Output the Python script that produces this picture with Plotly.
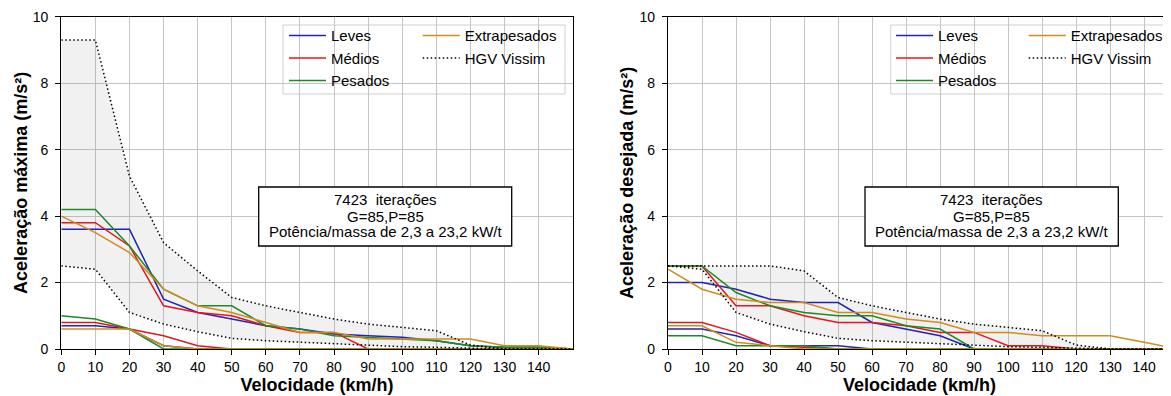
import plotly.graph_objects as go

# ---------------- data ----------------
vel = [0, 10, 20, 30, 40, 50, 60, 70, 80, 90, 100, 110, 120, 130, 140, 150]
x_ticks = [0, 10, 20, 30, 40, 50, 60, 70, 80, 90, 100, 110, 120, 130, 140]
y_ticks = [0, 2, 4, 6, 8, 10]

# Aceleração máxima (left panel)
leves_max_sup = [3.6, 3.6, 3.6, 1.5, 1.1, 0.9, 0.7, 0.6, 0.45, 0.4, 0.35, 0.25, 0.1, 0.05, 0.05, 0]
leves_max_inf = [0.7, 0.7, 0.6, 0.1, 0, 0, 0, 0, 0, 0, 0, 0, 0, 0, 0, 0]
medios_max_sup = [3.8, 3.8, 3.1, 1.3, 1.1, 1.0, 0.7, 0.5, 0.5, 0, 0, 0, 0, 0, 0, 0]
medios_max_inf = [0.8, 0.8, 0.6, 0.4, 0.1, 0, 0, 0, 0, 0, 0, 0, 0, 0, 0, 0]
pesados_max_sup = [4.2, 4.2, 3.1, 1.8, 1.3, 1.3, 0.7, 0.6, 0.4, 0.35, 0.3, 0.25, 0.1, 0.05, 0.05, 0]
pesados_max_inf = [1.0, 0.9, 0.6, 0, 0, 0, 0, 0, 0, 0, 0, 0, 0, 0, 0, 0]
extra_max_sup = [4.0, 3.5, 2.9, 1.8, 1.3, 1.1, 0.8, 0.5, 0.5, 0.3, 0.3, 0.3, 0.3, 0.1, 0.1, 0]
extra_max_inf = [0.6, 0.6, 0.6, 0.1, 0, 0, 0, 0, 0, 0, 0, 0, 0, 0, 0, 0]
hgv_max_sup = [9.3, 9.3, 5.2, 3.2, 2.35, 1.55, 1.3, 1.1, 0.9, 0.75, 0.65, 0.55, 0.12, 0, 0, 0]
hgv_max_inf = [2.5, 2.4, 1.1, 0.75, 0.52, 0.32, 0.25, 0.2, 0.15, 0.1, 0.07, 0.05, 0.02, 0, 0, 0]

# Aceleração desejada (right panel)
leves_des_sup = [2.0, 2.0, 1.8, 1.5, 1.4, 1.4, 0.8, 0.6, 0.4, 0, 0, 0, 0, 0, 0, 0]
leves_des_inf = [0.6, 0.6, 0.4, 0.1, 0.1, 0.1, 0, 0, 0, 0, 0, 0, 0, 0, 0, 0]
medios_des_sup = [2.5, 2.5, 1.3, 1.3, 1.0, 0.8, 0.8, 0.7, 0.5, 0.5, 0.1, 0.1, 0, 0, 0, 0]
medios_des_inf = [0.8, 0.8, 0.5, 0.1, 0.05, 0, 0, 0, 0, 0, 0, 0, 0, 0, 0, 0]
pesados_des_sup = [2.5, 2.5, 1.7, 1.3, 1.1, 1.0, 1.0, 0.7, 0.6, 0, 0, 0, 0, 0, 0, 0]
pesados_des_inf = [0.4, 0.4, 0.1, 0.1, 0.1, 0, 0, 0, 0, 0, 0, 0, 0, 0, 0, 0]
extra_des_sup = [2.4, 1.8, 1.5, 1.4, 1.4, 1.1, 1.1, 0.9, 0.8, 0.5, 0.5, 0.4, 0.4, 0.4, 0.2, 0]
extra_des_inf = [0.7, 0.7, 0.2, 0.1, 0, 0, 0, 0, 0, 0, 0, 0, 0, 0, 0, 0]
hgv_des_sup = [2.5, 2.5, 2.5, 2.5, 2.35, 1.55, 1.3, 1.1, 0.9, 0.75, 0.65, 0.55, 0.12, 0, 0, 0]
hgv_des_inf = [2.5, 2.4, 1.1, 0.75, 0.52, 0.32, 0.25, 0.2, 0.15, 0.1, 0.07, 0.05, 0.02, 0, 0, 0]

box_lines = ["7423  iterações", "G=85,P=85", "Potência/massa de 2,3 a 23,2 kW/t"]

# ---------------- style ----------------
OFF = 8  # page body margin
W, H = 1171 - OFF, 396 - OFF
FONT = "Liberation Sans, Arial, Helvetica, sans-serif"
C_LEVES = "#2323b4"
C_MEDIOS = "#e3161d"
C_PESADOS = "#1f8a24"
C_EXTRA = "#d08c1e"
DOT = "1.5px,2.5px"


def px(v):
    return (v - OFF) / W


def py(v):
    return 1 - (v - OFF) / H


fig = go.Figure()


def add_panel(xa, ya, series, sup, inf, legA, legB):
    fig.add_trace(go.Scatter(x=vel, y=inf, mode="lines", line=dict(width=0, color="rgba(0,0,0,0)"),
                             showlegend=False, hoverinfo="skip", xaxis=xa, yaxis=ya))
    fig.add_trace(go.Scatter(x=vel, y=sup, mode="lines", line=dict(width=0, color="rgba(0,0,0,0)"),
                             fill="tonexty", fillcolor="rgba(128,128,128,0.11)",
                             showlegend=False, hoverinfo="skip", xaxis=xa, yaxis=ya))
    for name, s, i, color, leg in series:
        fig.add_trace(go.Scatter(x=vel, y=s, name=name, mode="lines", line=dict(color=color, width=1.5),
                                 legend=leg, xaxis=xa, yaxis=ya))
        fig.add_trace(go.Scatter(x=vel, y=i, name=name, mode="lines", line=dict(color=color, width=1.5),
                                 showlegend=False, legend=leg, xaxis=xa, yaxis=ya))
    fig.add_trace(go.Scatter(x=vel, y=sup, name="HGV Vissim", mode="lines",
                             line=dict(color="black", width=1.5, dash=DOT), legend=legB, xaxis=xa, yaxis=ya))
    fig.add_trace(go.Scatter(x=vel, y=inf, name="HGV Vissim", mode="lines",
                             line=dict(color="black", width=1.5, dash=DOT), showlegend=False,
                             legend=legB, xaxis=xa, yaxis=ya))


add_panel("x", "y",
          [("Leves", leves_max_sup, leves_max_inf, C_LEVES, "legend"),
           ("Médios", medios_max_sup, medios_max_inf, C_MEDIOS, "legend"),
           ("Pesados", pesados_max_sup, pesados_max_inf, C_PESADOS, "legend"),
           ("Extrapesados", extra_max_sup, extra_max_inf, C_EXTRA, "legend2")],
          hgv_max_sup, hgv_max_inf, "legend", "legend2")
add_panel("x2", "y2",
          [("Leves", leves_des_sup, leves_des_inf, C_LEVES, "legend3"),
           ("Médios", medios_des_sup, medios_des_inf, C_MEDIOS, "legend3"),
           ("Pesados", pesados_des_sup, pesados_des_inf, C_PESADOS, "legend3"),
           ("Extrapesados", extra_des_sup, extra_des_inf, C_EXTRA, "legend4")],
          hgv_des_sup, hgv_des_inf, "legend3", "legend4")

ydom = [py(349), py(16.7)]
axis_common = dict(showline=True, linecolor="black", linewidth=1.3, ticks="outside", ticklen=5,
                   tickwidth=1.3, tickcolor="black", showgrid=True, gridcolor="#c4c4c4", gridwidth=1.2,
                   zeroline=False, tickfont=dict(family=FONT, size=14, color="black"), automargin=False)
title_font = dict(family=FONT, size=18, color="black", weight="bold")

fig.update_layout(
    width=W, height=H, margin=dict(l=0, r=0, t=0, b=0),
    plot_bgcolor="white", paper_bgcolor="white",
    font=dict(family=FONT, color="black"),
    xaxis=dict(domain=[px(61.3), px(572.7)], range=[0, 150], tickvals=x_ticks, mirror=True,
               anchor="y", title=dict(text="Velocidade (km/h)", font=title_font, standoff=4), **axis_common),
    yaxis=dict(domain=ydom, range=[0, 10], tickvals=y_ticks, mirror=True, anchor="x",
               ticklabelstandoff=4,
               title=dict(text="Aceleração máxima (m/s²)", font=title_font, standoff=0), **axis_common),
    xaxis2=dict(domain=[px(668), 1.0], range=[0, 147.9], tickvals=x_ticks, mirror=True,
                anchor="y2", title=dict(text="Velocidade (km/h)", font=title_font, standoff=4), **axis_common),
    yaxis2=dict(domain=ydom, range=[0, 10], tickvals=y_ticks, mirror=False, anchor="x2",
                ticklabelstandoff=4,
                title=dict(text="Aceleração desejada (m/s²)", font=title_font, standoff=1), **axis_common),
)

leg_common = dict(xanchor="left", yanchor="top", bgcolor="rgba(0,0,0,0)", borderwidth=0,
                  font=dict(family=FONT, size=15, color="black"), itemwidth=37, tracegroupgap=0,
                  orientation="v", traceorder="normal")
LEG_TOP = 19.3
fig.update_layout(
    legend=dict(x=px(284), y=py(LEG_TOP), **leg_common),
    legend2=dict(x=px(417.7), y=py(LEG_TOP), **leg_common),
    legend3=dict(x=px(891), y=py(LEG_TOP), **leg_common),
    legend4=dict(x=px(1023.7), y=py(LEG_TOP), **leg_common),
)

# legend frames
for (x0, x1) in [(283, 565), (890.7, 1171)]:
    shp = dict(type="rect", xref="paper", yref="paper", x0=px(x0), x1=px(x1), y0=py(94), y1=py(25),
               fillcolor="rgba(255,255,255,0.8)", line=dict(color="#d0d0d0", width=1))
    try:
        fig.add_shape(layer="between", **shp)
    except Exception:
        fig.add_shape(layer="below", **shp)

# annotation boxes
for (x0, x1) in [(258.7, 511.7), (865, 1118.3)]:
    fig.add_shape(type="rect", xref="paper", yref="paper", x0=px(x0), x1=px(x1), y0=py(246), y1=py(187),
                  fillcolor="white", line=dict(color="black", width=1.3), layer="above")
    cx = (x0 + x1) / 2
    for yy, txt in zip([199, 216, 232], box_lines):
        fig.add_annotation(x=px(cx), y=py(yy), xref="paper", yref="paper", text=txt, showarrow=False,
                           xanchor="center", yanchor="middle", font=dict(family=FONT, size=15, color="black"))

fig.write_html("out.html")
